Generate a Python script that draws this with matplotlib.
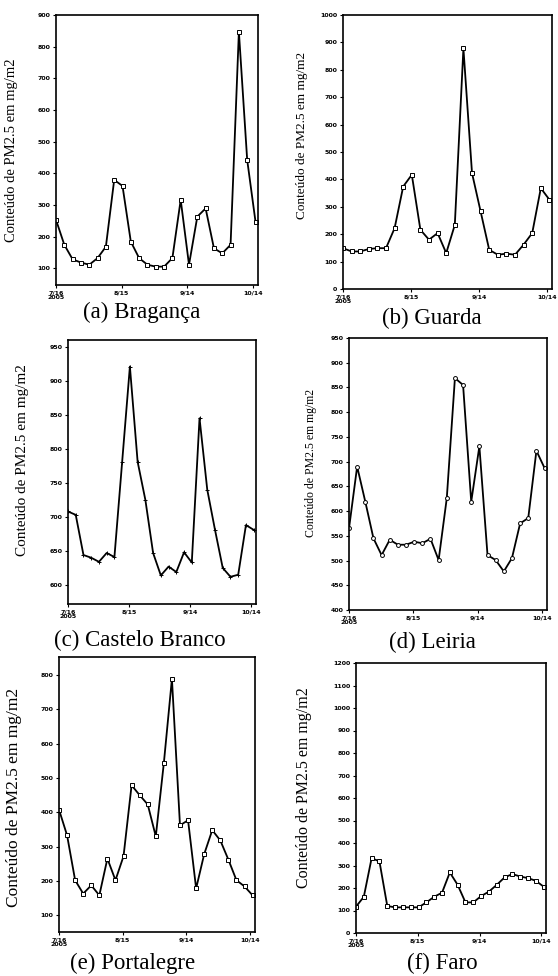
#!/usr/bin/env python3
# -*- coding: utf-8 -*-

"""
PM2.5 content per district - six small panels
"""

import matplotlib
matplotlib.use('Agg')
import matplotlib.pyplot as plt

# Data
days = list(range(25))
date_ticks = [0, 7.9, 15.8, 23.7]
date_labels = ['7/16\n2005', '8/15', '9/14', '10/14']

braganca = [253, 174, 128, 118, 111, 132, 168, 379, 360, 184, 132, 111, 105,
            105, 132, 316, 111, 263, 289, 163, 147, 174, 847, 442, 247]
guarda = [149, 137, 137, 146, 149, 149, 222, 374, 417, 216, 180, 204, 131,
          234, 878, 423, 283, 143, 125, 129, 125, 162, 204, 368, 326]
castelo_branco = [708, 703, 644, 640, 634, 647, 641, 781, 921, 781, 725, 647, 614,
                  627, 619, 648, 633, 845, 740, 681, 625, 612, 615, 688, 681]
leiria = [565, 690, 619, 545, 511, 542, 532, 532, 538, 535, 544, 501, 626,
          869, 855, 619, 731, 511, 501, 478, 505, 575, 586, 722, 687]
portalegre = [408, 333, 202, 163, 187, 158, 265, 202, 272, 479, 450, 423, 330,
              544, 789, 362, 377, 178, 278, 348, 318, 262, 202, 184, 158]
faro = [117, 161, 333, 318, 120, 114, 114, 114, 114, 136, 161, 179, 269,
        214, 136, 136, 164, 184, 214, 247, 262, 251, 244, 232, 206]

captions = ['(a) Bragança', '(b) Guarda', '(c) Castelo Branco',
            '(d) Leiria', '(e) Portalegre', '(f) Faro']
ylabel = 'Conteúdo de PM2.5 em mg/m2'

yticks_a = list(range(100, 901, 100))
yticks_b = list(range(0, 1001, 100))
yticks_c = list(range(600, 951, 50))
yticks_d = list(range(400, 951, 50))
yticks_e = list(range(100, 801, 100))
yticks_f = list(range(0, 1201, 100))

W, H = 558, 976


def rect(left, right, top, bottom):
    """Pixel box -> figure fraction"""
    return [left / W, 1 - bottom / H, (right - left) / W, (bottom - top) / H]


def draw_panel(fig, box, values, yticks, ylim, label_xy, label_size, marker):
    ax = fig.add_axes(box)
    ax.plot(days, values, color='black', linewidth=1.3, marker=marker,
            markersize=2.8, markerfacecolor='white', markeredgewidth=0.7)
    ax.set_xlim(0, 24.3)
    ax.set_ylim(*ylim)
    ax.set_yticks(yticks)
    ax.set_yticklabels([str(t) for t in yticks], fontsize=4.5, fontweight='bold')
    ax.set_xticks(date_ticks)
    ax.set_xticklabels(date_labels, fontsize=4.5, fontweight='bold', linespacing=0.8)
    ax.tick_params(axis='both', length=2.5, width=0.8, pad=1.5, direction='out')
    for sp in ax.spines.values():
        sp.set_linewidth(1.2)
    ax.set_ylabel(ylabel, fontsize=label_size, family='Liberation Serif')
    ax.yaxis.set_label_coords(*label_xy)
    return ax


fig = plt.figure(figsize=(W / 100, H / 100), dpi=100)

draw_panel(fig, rect(56, 258, 15, 285), braganca, yticks_a, (47, 900),
           (-0.19, 0.5), 10.5, 's')
draw_panel(fig, rect(343, 552, 15, 289), guarda, yticks_b, (0, 1000),
           (-0.167, 0.56), 9.5, 's')
draw_panel(fig, rect(68, 256, 340, 604), castelo_branco, yticks_c, (572, 960),
           (-0.21, 0.545), 11, '+')
draw_panel(fig, rect(349, 547, 338, 610), leiria, yticks_d, (400, 950),
           (-0.16, 0.54), 8.5, 'o')
draw_panel(fig, rect(59, 255, 657, 932), portalegre, yticks_e, (51, 853),
           (-0.19, 0.49), 12.5, 's')
draw_panel(fig, rect(356, 546, 663, 933), faro, yticks_f, (0, 1200),
           (-0.23, 0.54), 11.5, 's')

# Captions under each panel
caption_xy = [(142, 312), (432, 318), (140, 640), (432, 642), (133, 963), (442, 963)]
for text, (cx, cy) in zip(captions, caption_xy):
    fig.text(cx / W, 1 - cy / H, text, ha='center', va='center',
             fontsize=16.5, family='Liberation Serif')

fig.savefig('out.png', dpi=100)
